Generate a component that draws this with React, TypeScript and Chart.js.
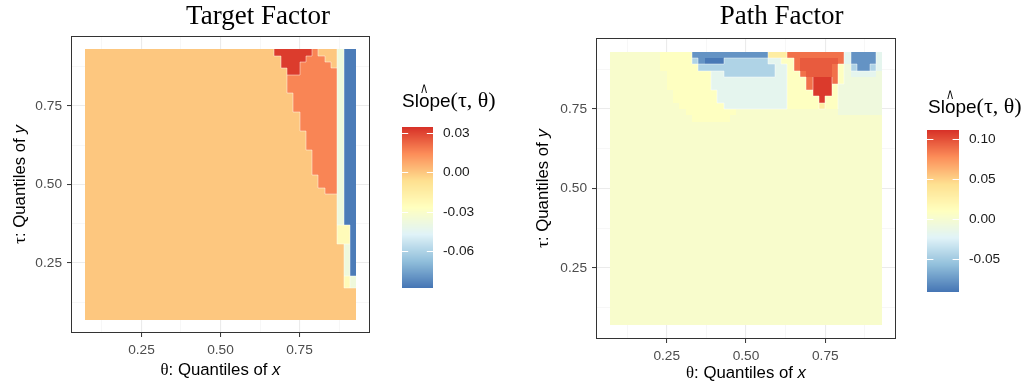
import React, { useEffect, useRef } from "react";
import { Chart, registerables } from "chart.js";

Chart.register(...registerables);

// ---------------- shared quantile grid ----------------
const thetaGrid = [
  0.08, 0.10, 0.12, 0.14, 0.16, 0.18, 0.20, 0.22, 0.24, 0.26, 0.28, 0.30, 0.32, 0.34, 0.36,
  0.38, 0.40, 0.42, 0.44, 0.46, 0.48, 0.50, 0.52, 0.54, 0.56, 0.58, 0.60, 0.62, 0.64, 0.66,
  0.68, 0.70, 0.72, 0.74, 0.76, 0.78, 0.80, 0.82, 0.84, 0.86, 0.88, 0.90, 0.92,
];
const tauGrid = [
  0.08, 0.10, 0.12, 0.14, 0.16, 0.18, 0.20, 0.22, 0.24, 0.26, 0.28, 0.30, 0.32, 0.34, 0.36,
  0.38, 0.40, 0.42, 0.44, 0.46, 0.48, 0.50, 0.52, 0.54, 0.56, 0.58, 0.60, 0.62, 0.64, 0.66,
  0.68, 0.70, 0.72, 0.74, 0.76, 0.78, 0.80, 0.82, 0.84, 0.86, 0.88, 0.90, 0.92,
];
const axisTickValues = [0.125, 0.25, 0.375, 0.5, 0.625, 0.75, 0.875];
const axisTickLabels = ["", "0.25", "", "0.50", "", "0.75", ""];

// ---------------- Target Factor ----------------
const targetLimits = [-0.088, 0.0346];
const targetLegendBreaks = [0.03, 0.0, -0.03, -0.06];
const targetLegendLabels = ["0.03", "0.00", "-0.03", "-0.06"];
const targetBandCodes = ["o", "O", "R", "w", "y", "B"];
const targetBandValues = [0.0, 0.016, 0.032, -0.037, -0.024, -0.086];
// rows from tau = 0.92 (top) down to tau = 0.08; run-length "count+code"
const targetRows = [
  "30o 6R 1O 3o 1w 2B",
  "31o 4R 3O 2o 1w 2B",
  "31o 3R 5O 1o 1w 2B",
  "32o 2R 6O 1w 2B",
  "32o 8O 1w 2B",
  "32o 8O 1w 2B",
  "32o 8O 1w 2B",
  "33o 7O 1w 2B",
  "33o 7O 1w 2B",
  "33o 7O 1w 2B",
  "34o 6O 1w 2B",
  "34o 6O 1w 2B",
  "34o 6O 1w 2B",
  "35o 5O 1w 2B",
  "35o 5O 1w 2B",
  "35o 5O 1w 2B",
  "36o 4O 1w 2B",
  "36o 4O 1w 2B",
  "36o 4O 1w 2B",
  "36o 4O 1w 2B",
  "37o 3O 1w 2B",
  "37o 3O 1w 2B",
  "38o 2O 1w 2B",
  "40o 1w 2B",
  "40o 1w 2B",
  "40o 1w 2B",
  "40o 1w 2B",
  "40o 1w 2B",
  "40o 2y 1B",
  "40o 2y 1B",
  "40o 2y 1B",
  "41o 1w 1B",
  "41o 1w 1B",
  "41o 1w 1B",
  "41o 1w 1B",
  "41o 1w 1B",
  "41o 1y 1w",
  "41o 1y 1w",
  "43o",
  "43o",
  "43o",
  "43o",
  "43o",
];

// ---------------- Path Factor ----------------
const pathLimits = [-0.0918, 0.1116];
const pathLegendBreaks = [0.1, 0.05, 0.0, -0.05];
const pathLegendLabels = ["0.10", "0.05", "0.00", "-0.05"];
const pathBandCodes = [".", "y", "Y", "c", "e", "l", "b", "D", "r", "m", "R"];
const pathBandValues = [0.002, 0.009, 0.03, -0.018, -0.008, -0.045, -0.078, -0.09, 0.088, 0.096, 0.108];
const pathRows = [
  "8. 5y 12b 3Y 9r 1c 4b 1c",
  "8. 5y 1l 1b 3D 7l 2c 2y 1r 6m 1r 1c 4b 1c",
  "8. 6y 12l 2c 1y 1r 5m 1r 1y 1e 1l 2b 1l 1c",
  "9. 7y 2c 8l 2c 2y 1r 4m 1r 1y 1e 4c 1e",
  "9. 7y 12c 3y 1r 3R 1r 1y 6e",
  "9. 7y 12c 3y 1r 3R 1y 7e",
  "10. 7y 11c 4y 3R 1y 7e",
  "10. 7y 11c 5y 1R 2y 7e",
  "11. 7y 10c 5y 1Y 2y 7e",
  "12. 8y 16. 7e",
  "13. 6y 24.",
  "43.", "43.", "43.", "43.", "43.", "43.", "43.", "43.",
  "43.", "43.", "43.", "43.", "43.", "43.", "43.", "43.",
  "43.", "43.", "43.", "43.", "43.", "43.", "43.", "43.",
  "43.", "43.", "43.", "43.", "43.", "43.", "43.", "43.",
];

// ---------------- helpers ----------------
const CELL_HALF = 0.01;
const OUTLINE_MIN = 0.0125;
const RDYLBU = [
  [69, 117, 180],
  [145, 191, 219],
  [224, 243, 248],
  [255, 255, 191],
  [254, 224, 144],
  [252, 141, 89],
  [215, 48, 39],
];

function colorAt(v: number, lo: number, hi: number): string {
  let f = (v - lo) / (hi - lo);
  f = Math.max(0, Math.min(1, f));
  const p = f * 6;
  const k = Math.min(5, Math.floor(p));
  const t = p - k;
  const a = RDYLBU[k];
  const b = RDYLBU[k + 1];
  const c = a.map((av, n) => Math.round(av + (b[n] - av) * t));
  return `rgb(${c[0]},${c[1]},${c[2]})`;
}

function expandRow(rle: string): string[] {
  const out: string[] = [];
  for (const tok of rle.trim().split(/\s+/)) {
    const m = tok.match(/^(\d+)(.)$/);
    if (!m) continue;
    for (let k = 0; k < parseInt(m[1], 10); k++) out.push(m[2]);
  }
  return out;
}

function buildCells(rows: string[], codes: string[], values: number[]) {
  const pts: any[] = [];
  const n = tauGrid.length;
  rows.forEach((rle, r) => {
    const j = n - 1 - r;
    expandRow(rle).forEach((code, i) => {
      if (i >= thetaGrid.length) return;
      pts.push({ x: thetaGrid[i], y: tauGrid[j], v: values[codes.indexOf(code)], i, j });
    });
  });
  return pts;
}

function drawRich(ctx: CanvasRenderingContext2D, parts: { text: string; font: string }[], cx: number, baseline: number) {
  const widths = parts.map((p) => {
    ctx.font = p.font;
    return ctx.measureText(p.text).width;
  });
  const total = widths.reduce((s, w) => s + w, 0);
  let x = cx - total / 2;
  ctx.textAlign = "left";
  ctx.textBaseline = "alphabetic";
  parts.forEach((p, k) => {
    ctx.font = p.font;
    ctx.fillText(p.text, x, baseline);
    x += widths[k];
  });
}

const SANS = '"Liberation Sans", Arial, sans-serif';
const SERIF = '"Liberation Serif", "Times New Roman", serif';
const AX_TITLE = 16.8;

function makePlugin(cfg: any) {
  return {
    id: "contourPanel",
    beforeDatasetsDraw(chart: any) {
      const { ctx, chartArea, scales } = chart;
      const xs = scales.x;
      const ys = scales.y;
      const pts = chart.data.datasets[0].data as any[];
      const [lo, hi] = cfg.limits;
      const lookup = new Map<string, any>();
      ctx.save();
      ctx.beginPath();
      ctx.rect(chartArea.left, chartArea.top, chartArea.right - chartArea.left, chartArea.bottom - chartArea.top);
      ctx.clip();
      for (const p of pts) {
        const x0 = Math.round(xs.getPixelForValue(p.x - CELL_HALF));
        const x1 = Math.round(xs.getPixelForValue(p.x + CELL_HALF));
        const y0 = Math.round(ys.getPixelForValue(p.y - CELL_HALF));
        const y1 = Math.round(ys.getPixelForValue(p.y + CELL_HALF));
        ctx.fillStyle = colorAt(p.v, lo, hi);
        ctx.fillRect(x0, y1, x1 - x0, y0 - y1);
        lookup.set(p.i + "," + p.j, p);
      }
      ctx.strokeStyle = "rgba(255,255,255,0.45)";
      ctx.lineWidth = 1;
      ctx.beginPath();
      for (const p of pts) {
        const right = lookup.get(p.i + 1 + "," + p.j);
        if (right && Math.abs(right.v - p.v) > OUTLINE_MIN) {
          const xe = Math.round(xs.getPixelForValue(p.x + CELL_HALF));
          const ya = Math.round(ys.getPixelForValue(p.y - CELL_HALF));
          const yb = Math.round(ys.getPixelForValue(p.y + CELL_HALF));
          ctx.moveTo(xe, ya);
          ctx.lineTo(xe, yb);
        }
        const up = lookup.get(p.i + "," + (p.j + 1));
        if (up && Math.abs(up.v - p.v) > OUTLINE_MIN) {
          const ye = Math.round(ys.getPixelForValue(p.y + CELL_HALF));
          const xa = Math.round(xs.getPixelForValue(p.x - CELL_HALF));
          const xb = Math.round(xs.getPixelForValue(p.x + CELL_HALF));
          ctx.moveTo(xa, ye);
          ctx.lineTo(xb, ye);
        }
      }
      ctx.stroke();
      ctx.restore();
    },
    afterDraw(chart: any) {
      const { ctx, chartArea } = chart;
      const [lo, hi] = cfg.limits;
      ctx.save();
      // panel border
      ctx.strokeStyle = "#333333";
      ctx.lineWidth = 1;
      ctx.strokeRect(chartArea.left + 0.5, chartArea.top + 0.5, chartArea.right - chartArea.left - 1, chartArea.bottom - chartArea.top - 1);

      // plot title
      ctx.fillStyle = "#000";
      ctx.font = `27px ${SERIF}`;
      ctx.textAlign = "center";
      ctx.textBaseline = "alphabetic";
      ctx.fillText(cfg.title, cfg.titleX, cfg.titleBase);

      // x axis title
      const cx = (chartArea.left + chartArea.right) / 2;
      drawRich(
        ctx,
        [
          { text: "θ", font: `${AX_TITLE}px ${SERIF}` },
          { text: ": Quantiles of ", font: `${AX_TITLE}px ${SANS}` },
          { text: "x", font: `italic ${AX_TITLE}px ${SANS}` },
        ],
        cx,
        cfg.xTitleBase
      );
      // y axis title
      ctx.save();
      ctx.translate(cfg.yTitleX, (chartArea.top + chartArea.bottom) / 2);
      ctx.rotate(-Math.PI / 2);
      drawRich(
        ctx,
        [
          { text: "τ", font: `${AX_TITLE}px ${SERIF}` },
          { text: ": Quantiles of ", font: `${AX_TITLE}px ${SANS}` },
          { text: "y", font: `italic ${AX_TITLE}px ${SANS}` },
        ],
        0,
        0
      );
      ctx.restore();

      // legend title
      const L = cfg.legend;
      ctx.fillStyle = "#000";
      ctx.textAlign = "left";
      ctx.font = `19px ${SANS}`;
      ctx.fillText("Slope", L.titleX, L.titleBase);
      const wSl = ctx.measureText("Sl").width;
      const wO = ctx.measureText("o").width;
      const wSlope = ctx.measureText("Slope").width;
      ctx.save();
      ctx.translate(L.titleX + wSl + wO / 2, L.titleBase - 6);
      ctx.scale(0.65, 1.3);
      ctx.textAlign = "center";
      ctx.fillText("^", 0, 0);
      ctx.restore();
      ctx.font = `22px ${SERIF}`;
      ctx.textAlign = "left";
      ctx.fillText("(τ, θ)", L.titleX + wSlope, L.titleBase);

      // colour bar
      for (let k = 0; k < L.barH; k++) {
        const v = hi - ((k + 0.5) / L.barH) * (hi - lo);
        ctx.fillStyle = colorAt(v, lo, hi);
        ctx.fillRect(L.barX, L.barY + k, L.barW, 1);
      }
      ctx.strokeStyle = "#ffffff";
      ctx.lineWidth = 1;
      ctx.fillStyle = "#1a1a1a";
      ctx.font = `13.7px ${SANS}`;
      ctx.textBaseline = "middle";
      ctx.textAlign = "left";
      cfg.breaks.forEach((b: number, n: number) => {
        const y = Math.round(L.barY + ((hi - b) / (hi - lo)) * L.barH) + 0.5;
        ctx.beginPath();
        ctx.moveTo(L.barX, y);
        ctx.lineTo(L.barX + L.barW * 0.2, y);
        ctx.moveTo(L.barX + L.barW * 0.8, y);
        ctx.lineTo(L.barX + L.barW, y);
        ctx.stroke();
        ctx.fillText(cfg.breakLabels[n], L.barX + L.barW + 10, y);
      });
      ctx.restore();
    },
  };
}

function axisOptions(isX: boolean, size: number) {
  return {
    type: "linear",
    min: 0.027,
    max: 0.973,
    afterBuildTicks: (s: any) => {
      s.ticks = axisTickValues.map((v) => ({ value: v }));
    },
    afterFit: (s: any) => {
      if (isX) s.height = size;
      else s.width = size;
    },
    ticks: {
      autoSkip: false,
      maxRotation: 0,
      padding: 5,
      color: "#4D4D4D",
      font: { family: SANS, size: 13.7 },
      callback: (v: number) => {
        const k = axisTickValues.indexOf(v);
        return k >= 0 ? axisTickLabels[k] : "";
      },
    },
    grid: {
      drawTicks: true,
      tickLength: 4,
      color: (c: any) => (c.tick && axisTickLabels[axisTickValues.indexOf(c.tick.value)] ? "#EBEBEB" : "#F3F3F3"),
      lineWidth: (c: any) => (c.tick && axisTickLabels[axisTickValues.indexOf(c.tick.value)] ? 1.1 : 0.7),
      tickColor: (c: any) => (c.tick && axisTickLabels[axisTickValues.indexOf(c.tick.value)] ? "#333333" : "rgba(0,0,0,0)"),
      tickWidth: 1,
    },
    border: { display: false },
  };
}

const targetPanel = {
  left: 0,
  width: 520,
  top: 36,
  xAxisH: 58,
  yAxisW: 71,
  padRight: 150,
  title: "Target Factor",
  titleX: 258,
  titleBase: 24,
  xTitleBase: 375,
  yTitleX: 24.5,
  limits: targetLimits,
  breaks: targetLegendBreaks,
  breakLabels: targetLegendLabels,
  cells: buildCells(targetRows, targetBandCodes, targetBandValues),
  legend: { titleX: 402, titleBase: 107, barX: 402, barY: 127, barW: 31, barH: 161 },
};

const pathPanel = {
  left: 532,
  width: 499,
  top: 38,
  xAxisH: 52,
  yAxisW: 64,
  padRight: 135,
  title: "Path Factor",
  titleX: 249.7,
  titleBase: 24,
  xTitleBase: 378,
  yTitleX: 16,
  limits: pathLimits,
  breaks: pathLegendBreaks,
  breakLabels: pathLegendLabels,
  cells: buildCells(pathRows, pathBandCodes, pathBandValues),
  legend: { titleX: 396, titleBase: 113, barX: 395, barY: 130, barW: 32, barH: 162 },
};

function Panel({ cfg }: { cfg: any }) {
  const ref = useRef<HTMLCanvasElement>(null);
  useEffect(() => {
    const canvas = ref.current;
    if (!canvas) return;
    const chart = new Chart(canvas, {
      type: "scatter",
      data: {
        datasets: [
          {
            data: cfg.cells,
            pointRadius: 0,
            pointHoverRadius: 0,
            showLine: false,
          },
        ],
      },
      options: {
        animation: false,
        responsive: false,
        maintainAspectRatio: false,
        devicePixelRatio: 1,
        events: [],
        layout: { padding: { left: 0, top: cfg.top, right: cfg.padRight, bottom: 0 } },
        plugins: {
          legend: { display: false },
          tooltip: { enabled: false },
          title: { display: false },
        },
        scales: {
          x: axisOptions(true, cfg.xAxisH) as any,
          y: axisOptions(false, cfg.yAxisW) as any,
        },
      },
      plugins: [makePlugin(cfg)],
    } as any);
    return () => chart.destroy();
  }, []);
  return (
    <canvas
      ref={ref}
      width={cfg.width}
      height={391}
      style={{ position: "absolute", left: cfg.left, top: 0, width: cfg.width, height: 391 }}
    />
  );
}

export default function App() {
  return (
    <div style={{ position: "absolute", left: 0, top: 0, width: 1031, height: 391, background: "#ffffff", overflow: "hidden" }}>
      <Panel cfg={targetPanel} />
      <Panel cfg={pathPanel} />
    </div>
  );
}
